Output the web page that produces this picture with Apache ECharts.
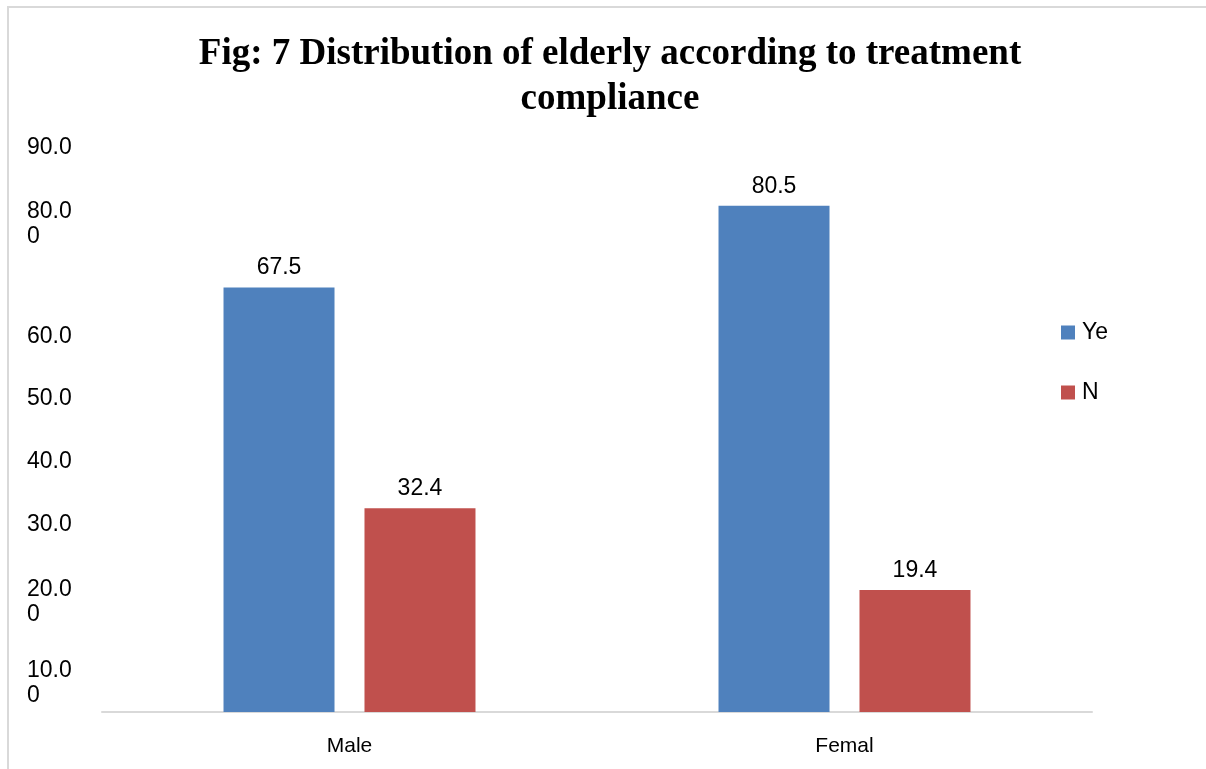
<!DOCTYPE html>
<html>
<head>
<meta charset="utf-8">
<title>Treatment compliance</title>
<script src="https://cdn.jsdelivr.net/npm/echarts@6/dist/echarts.min.js"></script>
<style>
  html, body { margin: 0; padding: 0; background: #ffffff; }
  #chart { width: 1206px; height: 769px; }
</style>
</head>
<body>
<div id="chart"></div>
<script>
// Chart data
const titleText = 'Fig: 7 Distribution of elderly according to treatment\ncompliance';
const categories = ['Male', 'Femal'];
const seriesNames = ['Ye', 'N'];
const yesValues = [67.5, 80.5];
const noValues = [32.4, 19.4];
// Y tick labels, one per step of 10 from 0 to 90
const yTickLabels = ['', '10.0\n0', '20.0\n0', '30.0', '40.0', '50.0', '60.0', '', '80.0\n0', '90.0'];

const BLUE = '#4F81BD';
const RED = '#C0504D';

const chart = echarts.init(document.getElementById('chart'), null, { renderer: 'canvas' });

function yLabel(value) {
  const text = yTickLabels[Math.round(value / 10)] || '';
  if (!text) return '';
  const lines = text.split('\n');
  if (lines.length === 1) return '{v|' + lines[0] + '}';
  // wrapped labels sit below their tick
  const gap = value === 10 ? 'gapL' : 'gapS';
  return '{' + gap + '| }\n' + lines.map(l => '{v|' + l + '}').join('\n');
}

const option = {
  backgroundColor: '#ffffff',
  animation: false,
  title: {
    text: titleText,
    left: 610,
    textAlign: 'center',
    top: 32,
    padding: 0,
    textStyle: {
      fontFamily: 'Liberation Serif',
      fontWeight: 'bold',
      fontSize: 37,
      lineHeight: 45,
      color: '#000000'
    }
  },
  graphic: [{
    type: 'rect',
    silent: true,
    shape: { x: 8, y: 7, width: 1400, height: 900 },
    style: { fill: 'none', stroke: '#d9d9d9', lineWidth: 2 }
  }],
  legend: {
    orient: 'vertical',
    left: 1061,
    top: 321,
    padding: 0,
    itemWidth: 14,
    itemHeight: 14,
    itemGap: 37,
    icon: 'rect',
    data: seriesNames,
    textStyle: { fontFamily: 'Liberation Sans', fontSize: 23, color: '#000000', padding: [0, 0, 0, 2] }
  },
  grid: { left: 102, right: 114, top: 146, bottom: 57, containLabel: false },
  xAxis: {
    type: 'category',
    data: categories,
    axisLine: { show: true, lineStyle: { color: '#d9d9d9', width: 2 } },
    axisTick: { show: false },
    axisLabel: { fontFamily: 'Liberation Sans', fontSize: 21, color: '#000000', margin: 24 },
    splitLine: { show: false }
  },
  yAxis: {
    type: 'value',
    min: 0,
    max: 90,
    interval: 10,
    axisLine: { show: false },
    axisTick: { show: false },
    splitLine: { show: false },
    axisLabel: {
      align: 'left',
      margin: 75,
      fontFamily: 'Liberation Sans',
      fontSize: 23,
      color: '#000000',
      formatter: yLabel,
      rich: {
        v: { fontFamily: 'Liberation Sans', fontSize: 23, lineHeight: 25, color: '#000000', padding: [3, 0, 0, 0] },
        gapS: { fontSize: 10, lineHeight: 28 },
        gapL: { fontSize: 10, lineHeight: 66 }
      }
    }
  },
  series: [
    {
      name: seriesNames[0],
      type: 'bar',
      data: yesValues,
      barWidth: 111,
      barGap: '27%',
      itemStyle: { color: BLUE },
      label: {
        show: true, position: 'top', distance: 8,
        fontFamily: 'Liberation Sans', fontSize: 23, color: '#000000',
        formatter: p => p.value.toFixed(1)
      }
    },
    {
      name: seriesNames[1],
      type: 'bar',
      data: noValues,
      barWidth: 111,
      barGap: '27%',
      itemStyle: { color: RED },
      label: {
        show: true, position: 'top', distance: 8,
        fontFamily: 'Liberation Sans', fontSize: 23, color: '#000000',
        formatter: p => p.value.toFixed(1)
      }
    }
  ]
};

chart.setOption(option);
</script>
</body>
</html>
